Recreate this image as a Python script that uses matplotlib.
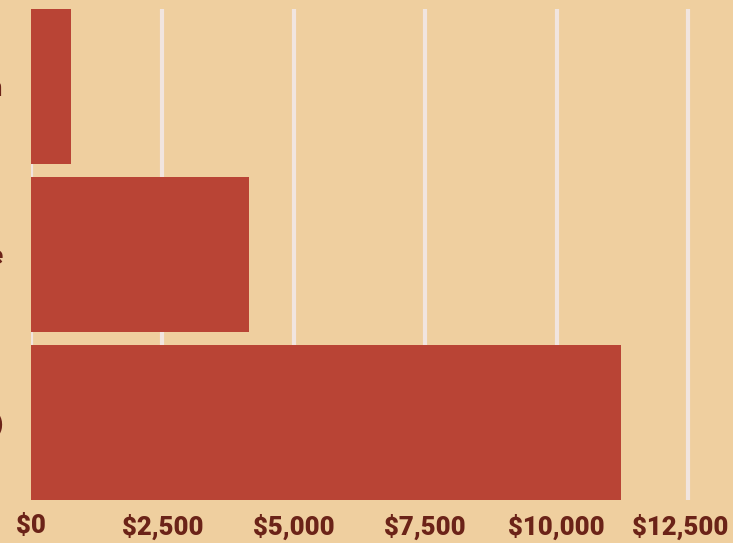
import matplotlib.pyplot as plt
import matplotlib.transforms as mtransforms
from matplotlib.ticker import FuncFormatter

# categories and values (top to bottom), labels cut off in the reference
categories = ['Median', 'Average', 'Total (USD)']
values = [761, 4148, 11225]
ticks = [0, 2500, 5000, 7500, 10000, 12500]

bg = '#efcf9f'
bar_color = '#b94435'
text_color = '#6b2318'
grid_color = '#f1e5df'

plt.rcParams['font.family'] = ['Roboto', 'DejaVu Sans']

fig = plt.figure(figsize=(7.33, 5.43), dpi=100, facecolor=bg)
ax = fig.add_axes([31 / 733, 43 / 543, 702 / 733, 491 / 543])
ax.set_facecolor(bg)

ax.barh(categories, values, height=0.925, color=bar_color, zorder=2)
ax.set_ylim(2.4625, -0.4625)
ax.set_xlim(0, 702 / 0.05256)

ax.set_xticks(ticks)
ax.xaxis.set_major_formatter(FuncFormatter(lambda v, p: f'${v:,.0f}'))
ax.grid(axis='x', color=grid_color, linewidth=3, zorder=1)
ax.grid(axis='y', visible=False)
for s in ax.spines.values():
    s.set_visible(False)

ax.tick_params(axis='both', length=0, colors=text_color, labelsize=18.5)
ax.tick_params(axis='x', pad=10)
ax.tick_params(axis='y', pad=20)
for lbl in ax.get_xticklabels() + ax.get_yticklabels():
    lbl.set_fontweight('heavy')

# last tick label sits a bit left so it fits inside the figure
last = ax.get_xticklabels()[-1]
last.set_transform(last.get_transform() + mtransforms.ScaledTranslation(-8 / 100, 0, fig.dpi_scale_trans))

fig.savefig('out.png', dpi=100, facecolor=bg)
